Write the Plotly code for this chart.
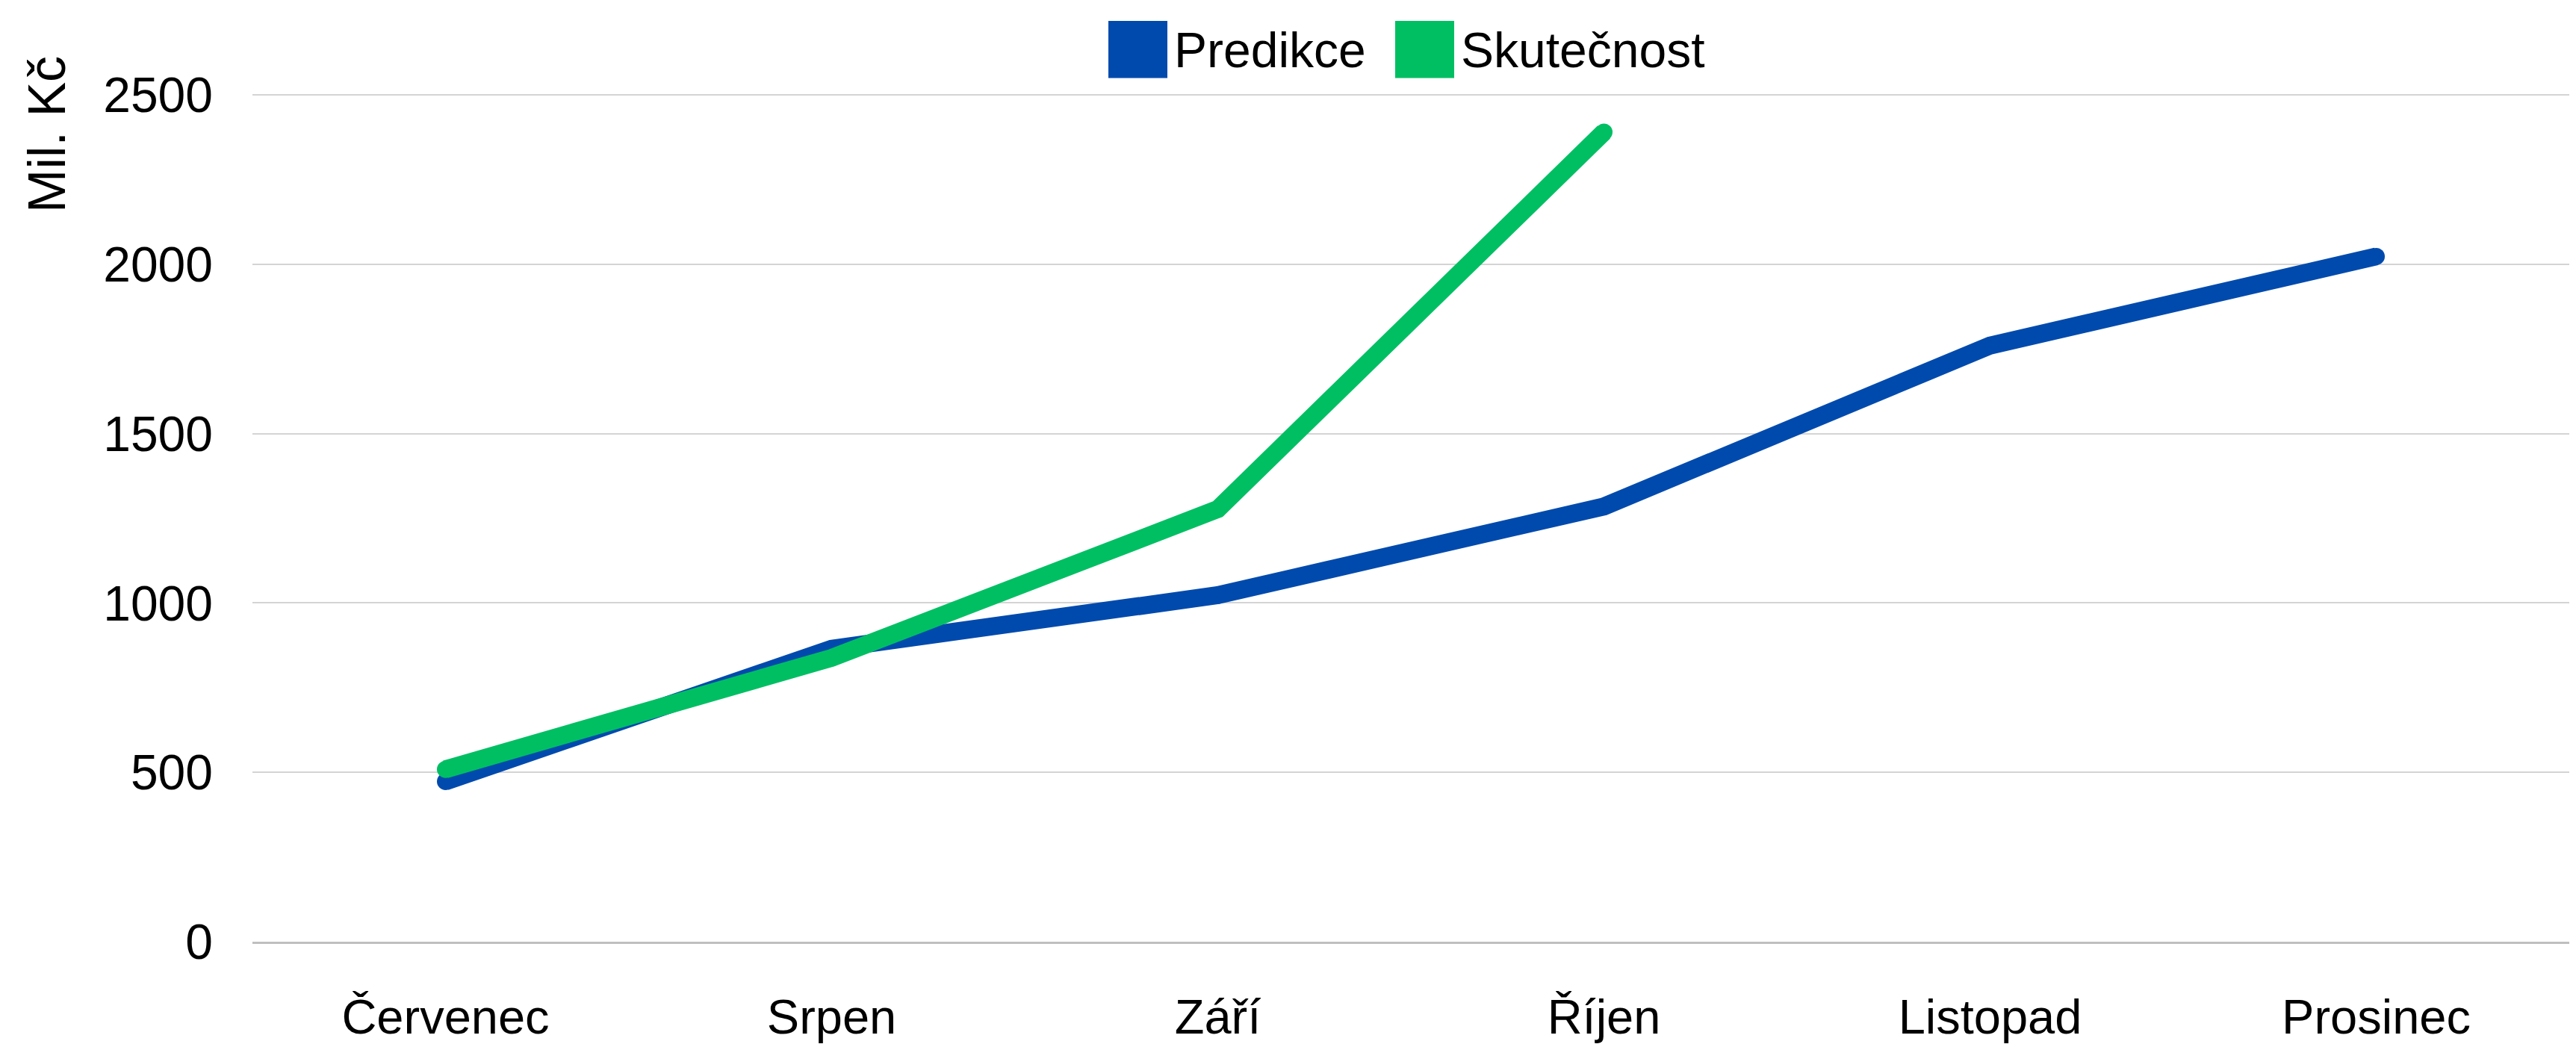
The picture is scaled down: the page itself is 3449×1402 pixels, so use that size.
import plotly.graph_objects as go

months = ["Červenec", "Srpen", "Září", "Říjen", "Listopad", "Prosinec"]
predikce = [473, 865, 1023, 1285, 1760, 2023]
skutecnost = [509, 838, 1277, 2390]
series_names = ["Predikce", "Skutečnost"]
y_ticks = [0, 500, 1000, 1500, 2000, 2500]

BLUE = "#004AAD"
GREEN = "#00BF63"
FONT = "Liberation Sans, Arial, sans-serif"

W, H = 3449, 1402
Y_MAX = 2520
ML, MR, MB = 330, 17, 110
PX_PER_UNIT = (1292 - 119) / 2500
MT = round(119 - (Y_MAX - 2500) * PX_PER_UNIT)

fig = go.Figure()
fig.add_trace(go.Scatter(x=months, y=predikce, mode="lines+markers", name=series_names[0],
                         line=dict(color=BLUE, width=24), marker=dict(color=BLUE, size=23),
                         showlegend=False))
fig.add_trace(go.Scatter(x=months[:len(skutecnost)], y=skutecnost, mode="lines+markers", name=series_names[1],
                         line=dict(color=GREEN, width=24), marker=dict(color=GREEN, size=23),
                         showlegend=False))

pw = W - ML - MR
ph = H - MT - MB

def px_x(p):
    return (p - ML) / pw

def px_y(p):
    return (H - MB - p) / ph

shapes = []
annotations = []
legend_items = [(series_names[0], BLUE, 1476), (series_names[1], GREEN, 1860)]
for name, col, x0 in legend_items:
    shapes.append(dict(type="rect", xref="paper", yref="paper",
                       x0=px_x(x0), x1=px_x(x0 + 79), y0=px_y(96), y1=px_y(17),
                       fillcolor=col, line=dict(width=0), layer="above"))
    annotations.append(dict(xref="paper", yref="paper", x=px_x(x0 + 86), y=px_y(57),
                            xanchor="left", yanchor="middle", text=name, showarrow=False,
                            font=dict(family=FONT, size=66, color="#000")))

annotations.append(dict(xref="paper", yref="paper", x=px_x(55), y=px_y(174),
                        xanchor="center", yanchor="middle", text="Mil. Kč", textangle=-90,
                        showarrow=False, font=dict(family=FONT, size=70, color="#000")))

fig.update_layout(
    width=W, height=H,
    margin=dict(l=ML, r=MR, t=MT, b=MB, pad=0),
    paper_bgcolor="white", plot_bgcolor="white",
    font=dict(family=FONT, size=64, color="#000"),
    shapes=shapes, annotations=annotations,
    showlegend=False,
)
fig.update_xaxes(type="category", range=[-0.5, 5.5], showgrid=False,
                 showline=True, linecolor="#bfbfbf", linewidth=3,
                 ticks="", tickfont=dict(family=FONT, size=65, color="#000"),
                 ticklabelstandoff=42)
fig.update_yaxes(range=[0, Y_MAX], tickvals=y_ticks, showgrid=True, gridcolor="#d4d4d4", gridwidth=2,
                 zeroline=False, showline=False, ticks="",
                 tickfont=dict(family=FONT, size=66, color="#000"), ticklabelstandoff=52)

fig.write_html("out.html")
